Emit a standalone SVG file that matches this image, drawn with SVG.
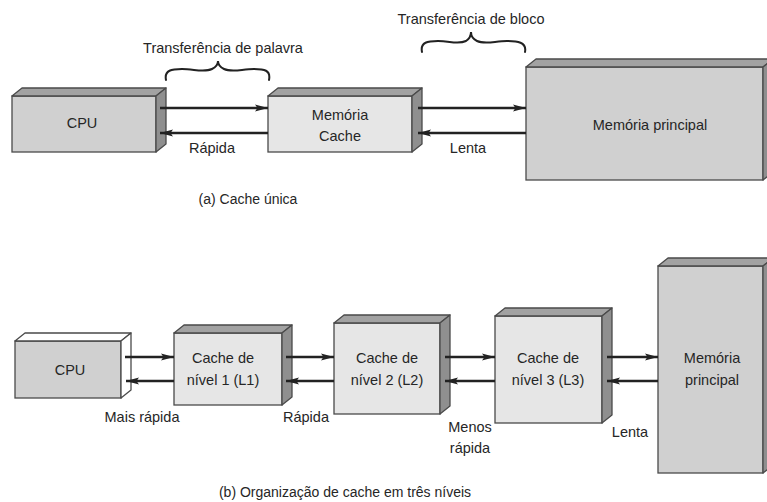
<svg xmlns="http://www.w3.org/2000/svg" width="767" height="502" viewBox="0 0 767 502">
<style>
.front{stroke:#4a4a4a;stroke-width:1.3}
.dark{fill:#d0d0d0}
.light{fill:#e6e6e6}
.top{fill:#a2a2a2;stroke:#4a4a4a;stroke-width:1.3;stroke-linejoin:round}
.side{fill:#8f8f8f;stroke:#4a4a4a;stroke-width:1.3;stroke-linejoin:round}
.white{fill:#ffffff}
text{font-family:"Liberation Sans",Arial,sans-serif;font-size:14.5px;fill:#262626;text-anchor:middle}
.cap{font-size:14px}
.arr{stroke:#222;stroke-width:2.6;fill:none;marker-end:url(#ah)}
.brace{stroke:#222;stroke-width:2;fill:none;stroke-linecap:round}
</style>
<defs>
<marker id="ah" markerUnits="userSpaceOnUse" markerWidth="13" markerHeight="8" refX="13" refY="4" orient="auto">
<path d="M0,0.5 L13,4 L0,7.5 L2.5,4 z" fill="#222"/>
</marker>
</defs>

<!-- (a) -->
<g id="cpu-a">
<rect class="front dark" x="12" y="96" width="144" height="56"/>
<polygon class="top" points="12,96 22,88 166,88 156,96"/>
<polygon class="side" points="156,96 166,88 166,144 156,152"/>
<text x="82" y="128">CPU</text>
</g>
<g id="cache-a">
<rect class="front light" x="268" y="96" width="144" height="56"/>
<polygon class="top" points="268,96 278,88 422,88 412,96"/>
<polygon class="side" points="412,96 422,88 422,144 412,152"/>
<text x="340" y="120">Memória</text>
<text x="340" y="141">Cache</text>
</g>
<g id="mp-a">
<rect class="front dark" x="526" y="67" width="237" height="113"/>
<polygon class="top" points="526,67 536,59 773,59 763,67"/>
<polygon class="side" points="763,67 773,59 773,172 763,180"/>
<text x="650" y="130">Memória principal</text>
</g>

<!-- (b) -->
<g id="cpu-b">
<rect class="front dark" x="15" y="341" width="106" height="57"/>
<polygon class="top white" points="15,341 25,333 131,333 121,341"/>
<polygon class="side white" points="121,341 131,333 131,390 121,398"/>
<text x="70" y="375">CPU</text>
</g>
<g id="l1">
<rect class="front light" x="174" y="333" width="108" height="72"/>
<polygon class="top" points="174,333 184,325 292,325 282,333"/>
<polygon class="side" points="282,333 292,325 292,397 282,405"/>
<text x="223" y="363">Cache de</text>
<text x="223" y="385">nível 1 (L1)</text>
</g>
<g id="l2">
<rect class="front light" x="334" y="323" width="106" height="91"/>
<polygon class="top" points="334,323 344,315 450,315 440,323"/>
<polygon class="side" points="440,323 450,315 450,406 440,414"/>
<text x="387" y="363">Cache de</text>
<text x="387" y="385">nível 2 (L2)</text>
</g>
<g id="l3">
<rect class="front light" x="495" y="316" width="107" height="107"/>
<polygon class="top" points="495,316 505,308 612,308 602,316"/>
<polygon class="side" points="602,316 612,308 612,415 602,423"/>
<text x="548" y="363">Cache de</text>
<text x="548" y="385">nível 3 (L3)</text>
</g>
<g id="mp-b">
<rect class="front dark" x="658" y="266" width="105" height="207"/>
<polygon class="top" points="658,266 668,258 773,258 763,266"/>
<polygon class="side" points="763,266 773,258 773,465 763,473"/>
<text x="712" y="363">Memória</text>
<text x="712" y="385">principal</text>
</g>

<g id="connectors">
<line class="arr" x1="160" y1="108" x2="268" y2="108"/>
<line class="arr" x1="268" y1="133" x2="160" y2="133"/>
<line class="arr" x1="418" y1="108" x2="526" y2="108"/>
<line class="arr" x1="526" y1="133" x2="418" y2="133"/>
<line class="arr" x1="125" y1="357" x2="174" y2="357"/>
<line class="arr" x1="174" y1="381" x2="126" y2="381"/>
<line class="arr" x1="286" y1="357" x2="334" y2="357"/>
<line class="arr" x1="334" y1="381" x2="286" y2="381"/>
<line class="arr" x1="445" y1="357" x2="495" y2="357"/>
<line class="arr" x1="495" y1="381" x2="445" y2="381"/>
<line class="arr" x1="607" y1="357" x2="658" y2="357"/>
<line class="arr" x1="658" y1="381" x2="607" y2="381"/>
</g>

<g id="labels">
<path class="brace" d="M166,80 C164,70 172,69 182,69 C194,69 204,73 212,69 C216,67 218,64 218,61 C218,64 220,67 224,69 C232,73 242,69 254,69 C264,69 271,70 269,80"/>
<text x="223" y="53">Transferência de palavra</text>
<path class="brace" d="M422,52 C420,42 428,41 438,41 C450,41 458,45 466,41 C469,39 471,36 471,32 C471,36 473,39 477,41 C485,45 495,41 507,41 C517,41 527,42 525,52"/>
<text x="471" y="24">Transferência de bloco</text>
<text x="212" y="153">Rápida</text>
<text x="468" y="153">Lenta</text>
<text class="cap" x="248" y="204">(a) Cache única</text>
<text x="142" y="422">Mais rápida</text>
<text x="306" y="422">Rápida</text>
<text x="470" y="432">Menos</text>
<text x="470" y="453">rápida</text>
<text x="630" y="437">Lenta</text>
<text class="cap" x="345" y="497">(b) Organização de cache em três níveis</text>
</g>
</svg>
